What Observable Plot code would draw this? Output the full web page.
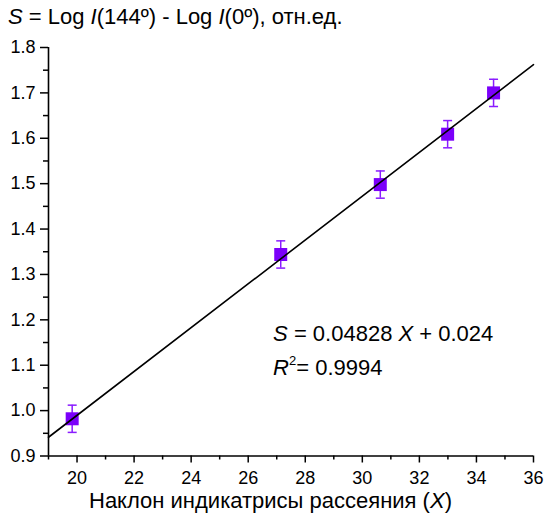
<!DOCTYPE html>
<html>
<head>
<meta charset="utf-8">
<script src="https://cdn.jsdelivr.net/npm/d3@7"></script>
<script src="https://cdn.jsdelivr.net/npm/@observablehq/plot@0.6"></script>
<style>
  body { margin: 0; background: #fff; font-family: "Liberation Sans", Arial, sans-serif; }
  #title { height: 24px; padding-top: 6px; font-size: 22px; line-height: 1; padding-left: 8px; white-space: nowrap; color: #000; }
  #chart svg { display: block; }
</style>
</head>
<body>
<div id="title"><i>S</i> = Log <i>I</i>(144º) - Log <i>I</i>(0º), отн.ед.</div>
<div id="chart"></div>
<script>
// Data
const xVals = [19.83, 27.14, 30.63, 32.99, 34.6];
const yVals = [0.982, 1.344, 1.498, 1.609, 1.700];
const yErr  = [0.030, 0.030, 0.030, 0.030, 0.030];
const fitSlope = 0.04828;
const fitIntercept = 0.024;
const fitR2 = 0.9994;
const xMajorTicks = [20, 22, 24, 26, 28, 30, 32, 34, 36];
const xMinorTicks = [19, 21, 23, 25, 27, 29, 31, 33, 35];
const yMajorTicks = [0.9, 1.0, 1.1, 1.2, 1.3, 1.4, 1.5, 1.6, 1.7, 1.8];
const yMinorTicks = [0.95, 1.05, 1.15, 1.25, 1.35, 1.45, 1.55, 1.65, 1.75];
const xDomain = [19, 36];
const yDomain = [0.9, 1.8];
const xLabel = "Наклон индикатрисы рассеяния";

const points = xVals.map((x, i) => ({x, y: yVals[i], lo: yVals[i] - yErr[i], hi: yVals[i] + yErr[i]}));
const fitLine = xDomain.map(x => ({x, y: fitSlope * x + fitIntercept}));

const squareSym = { draw(ctx) { ctx.rect(-6.5, -6.5, 13, 13); } };
const capSym = { draw(ctx) { ctx.moveTo(-4.5, 0); ctx.lineTo(4.5, 0); } };

const purple = "#7b00fa";
const errColor = "#8a1cff";

const plot = Plot.plot({
  width: 544,
  height: 486,
  marginTop: 17,
  marginBottom: 60.5,
  marginLeft: 48,
  marginRight: 11,
  style: { fontFamily: "Liberation Sans, Arial, sans-serif", fontSize: "18px", color: "#000", background: "#fff" },
  x: { domain: xDomain },
  y: { domain: yDomain },
  marks: [
    Plot.axisX({ ticks: xMajorTicks, tickSize: 7, tickPadding: 8, label: null, strokeWidth: 1.5, tickFormat: d => d, fontSize: 18 }),
    Plot.axisX({ ticks: xMinorTicks, tickSize: 4, tickFormat: () => "", label: null, strokeWidth: 1.5 }),
    Plot.axisY({ ticks: yMajorTicks, tickSize: 8, tickPadding: 5, label: null, strokeWidth: 1.5, tickFormat: d => d.toFixed(1), fontSize: 18 }),
    Plot.axisY({ ticks: yMinorTicks, tickSize: 5, tickFormat: () => "", label: null, strokeWidth: 1.5 }),
    Plot.ruleX([xDomain[0]], { stroke: "#000", strokeWidth: 1.6 }),
    Plot.ruleY([yDomain[0]], { stroke: "#000", strokeWidth: 1.6 }),
    Plot.ruleX(points, { x: "x", y1: "lo", y2: "hi", stroke: errColor, strokeWidth: 1.5 }),
    Plot.dot(points, { x: "x", y: "lo", symbol: capSym, stroke: errColor, strokeWidth: 1.5, r: 5 }),
    Plot.dot(points, { x: "x", y: "hi", symbol: capSym, stroke: errColor, strokeWidth: 1.5, r: 5 }),
    Plot.dot(points, { x: "x", y: "y", symbol: squareSym, fill: purple, stroke: "none", r: 7 }),
    Plot.line(fitLine, { x: "x", y: "y", stroke: "#000", strokeWidth: 1.6 })
  ]
});

const svg = d3.select(plot);
const sx = plot.scale("x"), sy = plot.scale("y");

// x-axis label with italic X
const xl = svg.append("text")
  .attr("x", sx.apply(xDomain[0]) + 41)
  .attr("y", plot.getAttribute("height") - 8)
  .attr("text-anchor", "start")
  .attr("font-size", 22)
  .attr("fill", "#000");
xl.append("tspan").text(xLabel + " (");
xl.append("tspan").attr("font-style", "italic").text("X");
xl.append("tspan").text(")");

// regression annotation
const ax = sx.apply(26.89);
const a1 = svg.append("text").attr("x", ax).attr("y", sy.apply(1.153))
  .attr("text-anchor", "start").attr("font-size", 22).attr("fill", "#000");
a1.append("tspan").attr("font-style", "italic").text("S");
a1.append("tspan").text(" = " + fitSlope + " ");
a1.append("tspan").attr("font-style", "italic").text("X");
a1.append("tspan").text(" + " + fitIntercept);
const a2 = svg.append("text").attr("x", ax).attr("y", sy.apply(1.078))
  .attr("text-anchor", "start").attr("font-size", 22).attr("fill", "#000");
a2.append("tspan").attr("font-style", "italic").text("R");
a2.append("tspan").attr("font-size", 13).attr("dy", -10).text("2");
a2.append("tspan").attr("dy", 10).text("= " + fitR2);

document.getElementById("chart").appendChild(plot);
</script>
</body>
</html>
